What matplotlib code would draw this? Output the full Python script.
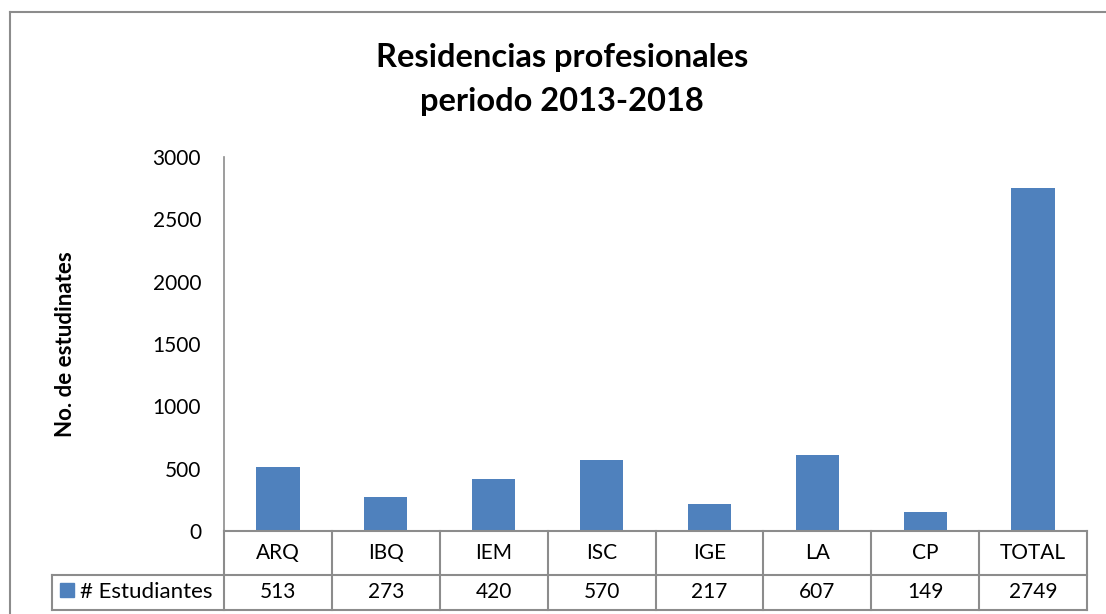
import matplotlib
matplotlib.use("Agg")
import matplotlib.pyplot as plt
from matplotlib.lines import Line2D
from matplotlib.patches import Rectangle
from matplotlib.transforms import blended_transform_factory

plt.rcParams["font.family"] = ["Lato", "DejaVu Sans"]

categories = ["ARQ", "IBQ", "IEM", "ISC", "IGE", "LA", "CP", "TOTAL"]
estudiantes = [513, 273, 420, 570, 217, 607, 149, 2749]
series_name = "# Estudiantes"
yticks = [0, 500, 1000, 1500, 2000, 2500, 3000]

BAR = "#4F81BD"
GRID = "#8C8C8C"
W, H = 1106, 614

fig = plt.figure(figsize=(W / 100, H / 100), dpi=100)
fig.patch.set_facecolor("white")

# outer chart border (right/bottom run off the picture)
fig.add_artist(Line2D([10 / W, 10 / W], [0, 1 - 12 / H], color=GRID, lw=1.5))
fig.add_artist(Line2D([10 / W, 1], [1 - 12 / H, 1 - 12 / H], color=GRID, lw=1.5))

x0, x1 = 224, 1087
y_top, y_bot = 157, 531
aw, ah = x1 - x0, y_bot - y_top
ax = fig.add_axes([x0 / W, 1 - y_bot / H, aw / W, ah / H])
ax.set_facecolor("none")

xs = list(range(len(categories)))
ax.bar(xs, estudiantes, width=0.4, color=BAR)
ax.set_xlim(-0.5, len(categories) - 0.5)
ax.set_ylim(0, 3000)
ax.set_yticks(yticks)
ax.set_yticklabels([str(t) for t in yticks], fontsize=15)
ax.tick_params(axis="y", length=0, pad=16.5)
ax.set_xticks([])
for s in ["top", "right", "bottom"]:
    ax.spines[s].set_visible(False)
ax.spines["left"].set_color(GRID)
ax.spines["left"].set_linewidth(1.2)

ax.text((65 - x0) / aw, 0.5, "No. de estudinates", transform=ax.transAxes,
        rotation=90, ha="center", va="center", fontsize=16, fontweight="bold")

# data table below the axis
r1 = -(575 - y_bot) / ah
r2 = -(610 - y_bot) / ah
leg_x = (52 - x0) / aw
bt = blended_transform_factory(ax.transData, ax.transAxes)
tk = dict(transform=ax.transAxes, color=GRID, lw=1.5, clip_on=False)

ax.plot([0, 1], [0, 0], **tk)
ax.plot([leg_x, 1], [r1, r1], **tk)
ax.plot([leg_x, 1], [r2, r2], **tk)
ax.plot([leg_x, leg_x], [r1, r2], **tk)
n = len(categories)
for i in range(n + 1):
    ax.plot([i / n, i / n], [0, r2], **tk)

for i, (c, v) in enumerate(zip(categories, estudiantes)):
    ax.text(i, r1 / 2, c, transform=bt, ha="center", va="center", fontsize=15)
    ax.text(i, (r1 + r2) / 2, str(v), transform=bt, ha="center", va="center", fontsize=15)

ax.add_patch(Rectangle(((60 - x0) / aw, -(597 - y_bot) / ah), 14 / aw, 14 / ah,
                       transform=ax.transAxes, color=BAR, clip_on=False))
ax.text((80 - x0) / aw, (r1 + r2) / 2, series_name, transform=ax.transAxes,
        ha="left", va="center", fontsize=16)

fig.text(562 / W, 1 - 58 / H, "Residencias profesionales", ha="center", va="center",
         fontsize=23.5, fontweight="bold")
fig.text(562 / W, 1 - 102 / H, "periodo 2013-2018", ha="center", va="center",
         fontsize=23.5, fontweight="bold")

fig.savefig("out.png", dpi=100, facecolor="white")
